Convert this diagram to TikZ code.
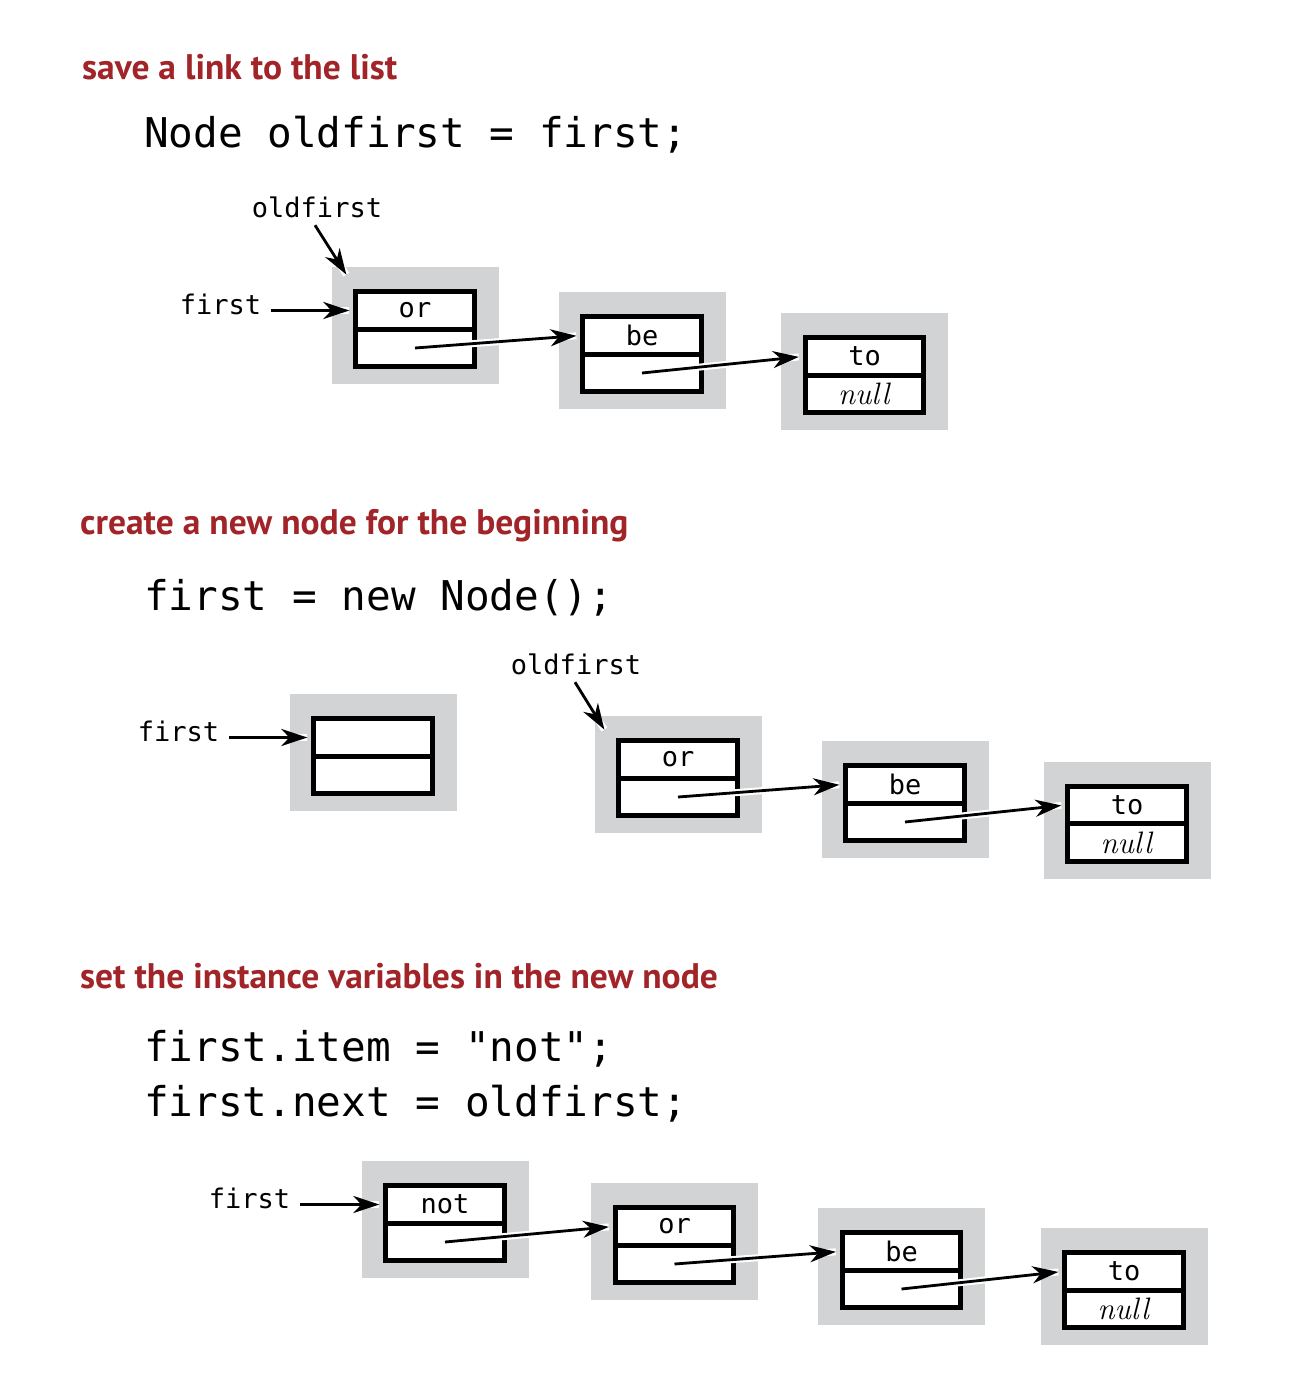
\documentclass[tikz,border=0pt]{standalone}
\usepackage{fontspec}
\setmonofont{DejaVu Sans Mono}
\newfontfamily\headfont{PT Sans}
\usepackage{tikz}
\usetikzlibrary{arrows.meta,positioning}
\definecolor{headred}{RGB}{160,36,40}
\definecolor{boxgray}{RGB}{209,211,212}

\begin{document}
\begin{tikzpicture}[x=1pt,y=-1pt,
  title/.style={anchor=base west,inner sep=0,text=headred,font=\headfont\bfseries\fontsize{35.5}{40}\selectfont},
  code/.style={anchor=base west,inner sep=0,font=\ttfamily\fontsize{41}{48}\selectfont},
  ptr/.style={inner sep=0,text height=8pt,text depth=0pt,font=\ttfamily\fontsize{27}{32}\selectfont},
  nodebox/.style={fill=boxgray,minimum width=167pt,minimum height=117pt,inner sep=0,outer sep=0},
  cell/.style={draw,line width=4.8pt,fill=white,minimum width=118.5pt,minimum height=37.5pt,inner sep=0,font=\ttfamily\fontsize{27}{30}\selectfont},
  link/.style={line width=2.8pt,-{Stealth[length=26pt,width=17pt,inset=8pt]},shorten >=4pt,preaction={draw=white,line width=7pt,arrows=-}}]
\useasboundingbox (0,0) rectangle (1306,1384);

% save a link to the list
\node[title] (t1) at (82,79) {save a link to the list};
\node[code] (c1) at (144,147) {Node oldfirst = first;};
\foreach \n/\x/\y/\itm/\nx in {s1a/415/325.5/or/, s1b/642/350.5/be/, s1c/864.5/371.5/to/\textrm{\textit{\fontsize{31}{34}\selectfont null}}} {
  \node[nodebox] (\n) at (\x,\y) {};
  \node[cell] (\n-item) at ([yshift=15pt]\n.center) {\itm};
  \node[cell] (\n-next) at ([yshift=-22.5pt]\n.center) {\nx};
}
\node[ptr,left=92pt of s1a-item] (s1first) {first};
\node[ptr,anchor=base] (s1old) at (317,217) {oldfirst};
\draw[link,shorten <=10pt] (s1first) -- (s1a-item);
\draw[link] ([xshift=-2pt,yshift=-8pt]s1old.south) -- ([xshift=17pt,yshift=-11pt]s1a.north west);
\foreach \a/\b in {s1a/s1b, s1b/s1c}
  \draw[link] (\a-next.center) -- (\b-item.west);

% create a new node for the beginning
\node[title] (t2) at (80,534) {create a new node for the beginning};
\node[code] (c2) at (144,610) {first = new Node();};
\foreach \n/\x/\y/\itm/\nx in {s2n/373/752.5//, s2a/678/774.5/or/, s2b/905/799.5/be/, s2c/1127/820/to/\textrm{\textit{\fontsize{31}{34}\selectfont null}}} {
  \node[nodebox] (\n) at (\x,\y) {};
  \node[cell] (\n-item) at ([yshift=15pt]\n.center) {\itm};
  \node[cell] (\n-next) at ([yshift=-22.5pt]\n.center) {\nx};
}
\node[ptr,left=92pt of s2n-item] (s2first) {first};
\node[ptr,anchor=base] (s2old) at (576,674) {oldfirst};
\draw[link,shorten <=10pt] (s2first) -- (s2n-item);
\draw[link] ([xshift=-1pt,yshift=-8pt]s2old.south) -- ([xshift=12pt,yshift=-17pt]s2a.north west);
\foreach \a/\b in {s2a/s2b, s2b/s2c}
  \draw[link] (\a-next.center) -- (\b-item.west);

% set the instance variables in the new node
\node[title] (t3) at (80,988) {set the instance variables in the new node};
\node[code] (c3a) at (144,1061) {first.item = "not";};
\node[code] (c3b) at (144,1116) {first.next = oldfirst;};
\foreach \n/\x/\y/\itm/\nx in {s3a/445/1219.5/not/, s3b/674.5/1241.5/or/, s3c/901.5/1266.5/be/, s3d/1124/1286.5/to/\textrm{\textit{\fontsize{31}{34}\selectfont null}}} {
  \node[nodebox] (\n) at (\x,\y) {};
  \node[cell] (\n-item) at ([yshift=15pt]\n.center) {\itm};
  \node[cell] (\n-next) at ([yshift=-22.5pt]\n.center) {\nx};
}
\node[ptr,left=93pt of s3a-item] (s3first) {first};
\draw[link,shorten <=10pt] (s3first) -- (s3a-item);
\foreach \a/\b in {s3a/s3b, s3b/s3c, s3c/s3d}
  \draw[link] (\a-next.center) -- (\b-item.west);
\end{tikzpicture}
\end{document}
